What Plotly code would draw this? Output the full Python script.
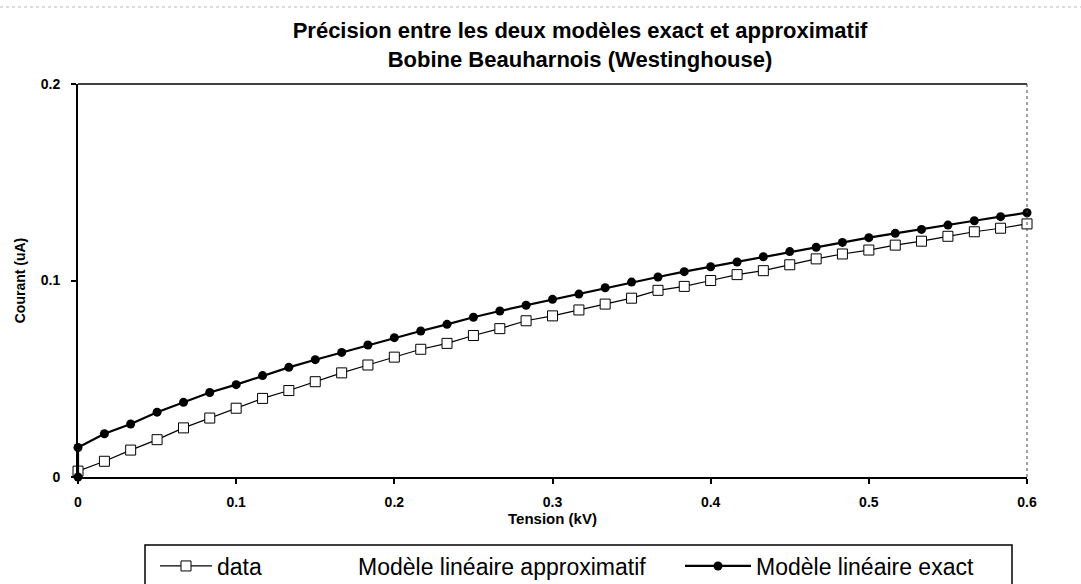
import plotly.graph_objects as go

# Tension (kV)
tension = [0, 0.0167, 0.0333, 0.05, 0.0667, 0.0833, 0.1, 0.1167, 0.1333, 0.15,
           0.1667, 0.1833, 0.2, 0.2167, 0.2333, 0.25, 0.2667, 0.2833, 0.3, 0.3167,
           0.3333, 0.35, 0.3667, 0.3833, 0.4, 0.4167, 0.4333, 0.45, 0.4667, 0.4833,
           0.5, 0.5167, 0.5333, 0.55, 0.5667, 0.5833, 0.6]

# Courant (uA) - measured data
courant_data = [0.003, 0.008, 0.0137, 0.019, 0.025, 0.030, 0.035, 0.040, 0.044, 0.0485,
                0.053, 0.057, 0.061, 0.065, 0.068, 0.072, 0.0755, 0.0795, 0.082, 0.085,
                0.088, 0.091, 0.095, 0.097, 0.100, 0.103, 0.105, 0.108, 0.111, 0.1135,
                0.1155, 0.118, 0.120, 0.1225, 0.1248, 0.1266, 0.1288]

# Modèle linéaire exact
tension_exact = [0] + tension
courant_exact = [0, 0.015, 0.022, 0.027, 0.033, 0.038, 0.043, 0.047, 0.0516, 0.0558,
                 0.0597, 0.0634, 0.0672, 0.0709, 0.0743, 0.0777, 0.0813, 0.0845, 0.0874,
                 0.0904, 0.0931, 0.0963, 0.0992, 0.1018, 0.1045, 0.107, 0.1094, 0.1121,
                 0.1147, 0.1169, 0.1194, 0.1218, 0.124, 0.126, 0.1282, 0.1304, 0.1325,
                 0.1345]

x_ticks = [0, 0.1, 0.2, 0.3, 0.4, 0.5, 0.6]
x_ticktext = ["0", "0.1", "0.2", "0.3", "0.4", "0.5", "0.6"]
y_ticks = [0, 0.1, 0.2]
y_ticktext = ["0", "0.1", "0.2"]

FONT = "Liberation Sans, Arial, sans-serif"

# plot area in pixels (for converting legend placement to paper coords)
PL, PR, PT, PB = 78, 1027, 84, 477
PW, PH = PR - PL, PB - PT


def px_x(p):
    return (p - PL) / PW


def px_y(p):
    return (PB - p) / PH


fig = go.Figure()

fig.add_trace(go.Scatter(
    x=tension, y=courant_data, name="data", mode="lines+markers",
    line=dict(color="black", width=1.2),
    marker=dict(symbol="square", size=10, color="white",
                line=dict(color="black", width=1)),
    cliponaxis=False, legend="legend",
))

# approximate model: shown in the legend only (drawn invisibly)
fig.add_trace(go.Scatter(
    x=tension, y=courant_data, name="Modèle linéaire approximatif", mode="lines",
    line=dict(color="rgba(0,0,0,0)", width=1),
    hoverinfo="skip", legend="legend2",
))

fig.add_trace(go.Scatter(
    x=tension_exact, y=courant_exact, name="Modèle linéaire exact", mode="lines+markers",
    line=dict(color="black", width=2.2),
    marker=dict(symbol="circle", size=9, color="black"),
    cliponaxis=False, legend="legend3",
))

leg_common = dict(
    orientation="h", xanchor="left", yanchor="middle",
    y=px_y(566), bgcolor="rgba(0,0,0,0)", borderwidth=0,
    font=dict(family=FONT, size=23, color="black"),
)

fig.update_layout(
    width=1081, height=584,
    margin=dict(l=PL, r=1081 - PR, t=PT, b=584 - PB, autoexpand=False),
    paper_bgcolor="white", plot_bgcolor="white",
    font=dict(family=FONT, color="black"),
    title=dict(
        text="Précision entre les deux modèles exact et approximatif<br>Bobine Beauharnois (Westinghouse)",
        x=580 / 1081, xanchor="center", xref="container",
        y=1 - 38 / 584, yanchor="top", yref="container",
        font=dict(family=FONT, size=22, weight="bold", color="black"),
    ),
    showlegend=True,
    legend=dict(x=px_x(155), itemwidth=52, **leg_common),
    legend2=dict(x=px_x(318), itemwidth=30, **leg_common),
    legend3=dict(x=px_x(680), itemwidth=66, **leg_common),
)

fig.update_xaxes(
    range=[0, 0.6], tickvals=x_ticks, ticktext=x_ticktext,
    showline=True, linecolor="black", linewidth=2,
    ticks="outside", ticklen=5, tickcolor="black", tickwidth=1.5,
    ticklabelstandoff=6, automargin=False,
    showgrid=False, zeroline=False,
    tickfont=dict(family=FONT, size=14, weight="bold", color="black"),
    title=dict(text="Tension (kV)", standoff=5,
               font=dict(family=FONT, size=15, weight="bold", color="black")),
)
fig.update_yaxes(
    range=[0, 0.2], tickvals=y_ticks, ticktext=y_ticktext,
    showline=True, linecolor="black", linewidth=2,
    ticks="outside", ticklen=5, tickcolor="black", tickwidth=1.5,
    ticklabelstandoff=8, automargin=False,
    showgrid=False, zeroline=False,
    tickfont=dict(family=FONT, size=14, weight="bold", color="black"),
    title=dict(text="Courant (uA)", standoff=12,
               font=dict(family=FONT, size=14, weight="bold", color="black")),
)

# top and right thin border of the plot area
fig.add_shape(type="line", xref="paper", yref="paper", x0=0, x1=1, y0=1, y1=1,
              line=dict(color="black", width=1.5))
fig.add_shape(type="line", xref="paper", yref="paper", x0=1, x1=1, y0=0, y1=1,
              line=dict(color="#444444", width=1, dash="dot"))

# faint frame line at the top of the picture
fig.add_shape(type="line", xref="paper", yref="paper",
              x0=px_x(0), x1=px_x(1081), y0=px_y(7), y1=px_y(7),
              line=dict(color="#bbbbbb", width=1, dash="dot"))

# legend frame
fig.add_shape(type="rect", xref="paper", yref="paper",
              x0=px_x(145), x1=px_x(1012), y0=px_y(600), y1=px_y(545),
              line=dict(color="black", width=1.5), fillcolor="rgba(0,0,0,0)",
              layer="above")

fig.write_html("out.html")
